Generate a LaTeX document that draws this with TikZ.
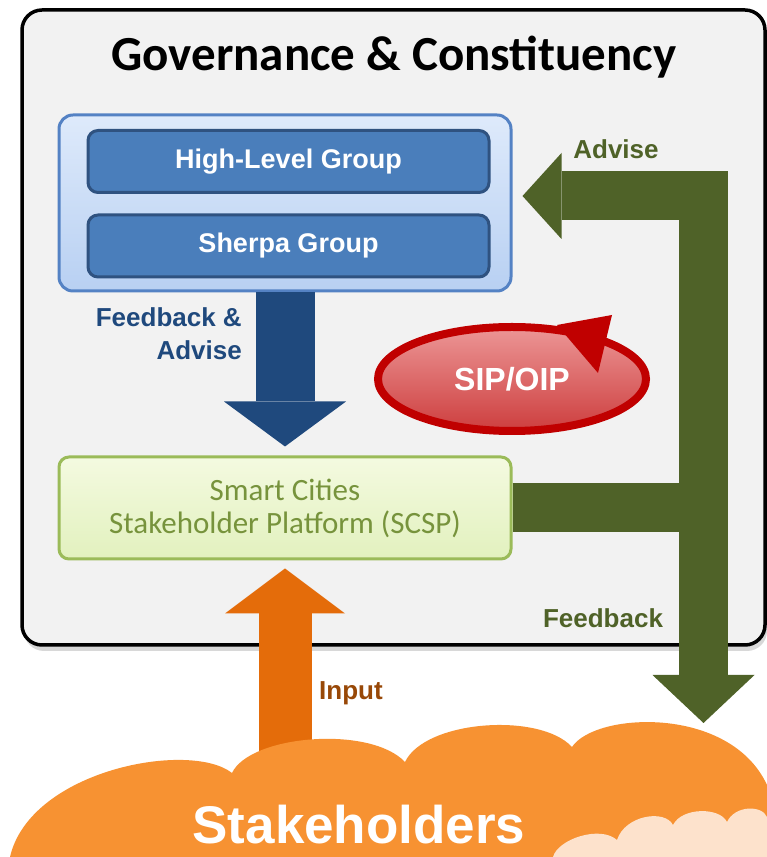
\documentclass[tikz,border=0pt]{standalone}
\usepackage{fontspec}
\setmainfont{Liberation Sans}
\newfontfamily\calfont{Carlito}
\usetikzlibrary{shapes.geometric,arrows.meta,positioning,shadows,calc}

\definecolor{govfill}{RGB}{242,242,242}
\definecolor{grpline}{RGB}{84,130,196}
\definecolor{grptop}{RGB}{222,234,251}
\definecolor{grpbot}{RGB}{184,208,242}
\definecolor{boxfill}{RGB}{74,126,187}
\definecolor{boxline}{RGB}{47,82,128}
\definecolor{navy}{RGB}{31,73,125}
\definecolor{sipred}{RGB}{192,0,0}
\definecolor{siptop}{RGB}{236,150,150}
\definecolor{sipbot}{RGB}{205,62,62}
\definecolor{scspline}{RGB}{155,187,89}
\definecolor{scsptop}{RGB}{244,250,224}
\definecolor{scspbot}{RGB}{226,241,190}
\definecolor{scsptext}{RGB}{119,147,60}
\definecolor{olive}{RGB}{79,98,40}
\definecolor{inorange}{RGB}{228,108,10}
\definecolor{inbrown}{RGB}{152,72,7}
\definecolor{cloudorange}{RGB}{247,146,50}
\definecolor{cloudpeach}{RGB}{253,226,204}

\begin{document}
\begin{tikzpicture}[
  x=1pt, y=1pt,
  govbox/.style={
    rectangle, rounded corners=20pt, draw=black, line width=3.5pt, fill=govfill,
    minimum width=743pt, minimum height=635pt,
    drop shadow={shadow xshift=2pt, shadow yshift=-6pt, opacity=0.3}
  },
  groupbox/.style={
    rectangle, rounded corners=14pt, draw=grpline, line width=3pt,
    top color=grptop, bottom color=grpbot,
    minimum width=452pt, minimum height=176pt
  },
  bodybox/.style={
    rectangle, rounded corners=10pt, draw=boxline, line width=3pt, fill=boxfill,
    minimum width=401pt, minimum height=62pt, text=white,
    font=\fontsize{27}{32}\selectfont\bfseries
  },
  scspbox/.style={
    rectangle, rounded corners=10pt, draw=scspline, line width=3pt,
    top color=scsptop, bottom color=scspbot, text=scsptext, align=center,
    minimum width=452pt, minimum height=102pt,
    font=\calfont\fontsize{31}{33}\selectfont
  },
  elabel/.style={font=\fontsize{26}{33}\selectfont\bfseries, inner sep=0pt},
  bluearrow/.style={draw=navy, line width=59pt,
    -{Triangle[width=122pt,length=45pt,line width=0pt]}},
  orangearrow/.style={draw=inorange, line width=53pt,
    -{Triangle[width=120pt,length=45pt,line width=0pt]}},
  greenarrow/.style={draw=olive, line width=49pt},
]
  \fill[white] (0,0) rectangle (767,857);
  \useasboundingbox (0,0) rectangle (767,857);

  % Frame and title
  \node[govbox] (gov) at (393.5,529.5) {};
  \node[font=\calfont\fontsize{49}{53}\selectfont\bfseries] (title) at (394,800)
    {Governance \& Constituency};

  % Governance groups
  \node[groupbox] (group) at (285,654) {};
  \node[bodybox] (hlg) at (288.5,695.5) {High-Level Group};
  \node[bodybox] (sherpa) at (288.5,611) {Sherpa Group};

  % Platform
  \node[scspbox] (scsp) at (285,349) {Smart Cities\\Stakeholder Platform (SCSP)};

  % Implementation plan
  \node[ellipse, draw=sipred, line width=8pt, top color=siptop, bottom color=sipbot,
    minimum width=268pt, minimum height=104pt, inner sep=0pt, text=white,
    font=\fontsize{32}{36}\selectfont\bfseries] (sip) at (512,478) {SIP/OIP};
  \fill[sipred] ($(sip.center)+(100,64)$) -- ($(sip.center)+(45,54)$)
    -- ($(sip.center)+(86,6)$) -- cycle;

  % Arrows: groups -> platform
  \draw[bluearrow, shorten >=9pt] (group.south) -- (scsp.north);
  \node[elabel, text=navy, align=right, anchor=east] (fbadv) at (242,523)
    {Feedback \&\\Advise};

  % Arrows: platform -> groups and stakeholders
  \coordinate (gcorner) at (703.5,661);
  \coordinate (gtip) at (703.5,134);
  \draw[greenarrow, shorten <=10pt,
    {Triangle[width=86pt,length=39pt,line width=0pt]}-{Triangle[width=102pt,length=48pt,line width=0pt]}]
    (group.east |- gcorner) -- (gcorner) -- (gtip);
  \draw[greenarrow] (scsp.east) -- (scsp.east -| gcorner);
  \node[elabel, text=olive] (adv) at (616,708) {Advise};
  \node[elabel, text=olive] (fb) at (603,239) {Feedback};

  % Arrows: stakeholders -> platform
  \coordinate (inbase) at (285,97);
  \draw[orangearrow, shorten >=8pt] (inbase) -- (scsp.south);
  \node[elabel, text=inbrown] (inp) at (351,164) {Input};

  % Stakeholder clouds
  \fill[cloudorange] (10,0) .. controls (30,87) and (190,117) .. (232,84)
    .. controls (250,122) and (370,132) .. (405,95)
    .. controls (425,137) and (540,145) .. (572,110)
    .. controls (595,145) and (730,152) .. (767,72) -- (767,0) -- cycle;
  \fill[cloudpeach] (553,0) .. controls (558,18) and (600,32) .. (617,17)
    .. controls (625,42) and (665,48) .. (673,32)
    .. controls (682,50) and (720,50) .. (727,35)
    .. controls (735,52) and (762,52) .. (767,40) -- (767,0) -- cycle;
  \node[font=\fontsize{53}{58}\selectfont\bfseries, text=white, anchor=base, inner sep=0pt]
    (stake) at (359,13) {Stakeholders};
\end{tikzpicture}
\end{document}
